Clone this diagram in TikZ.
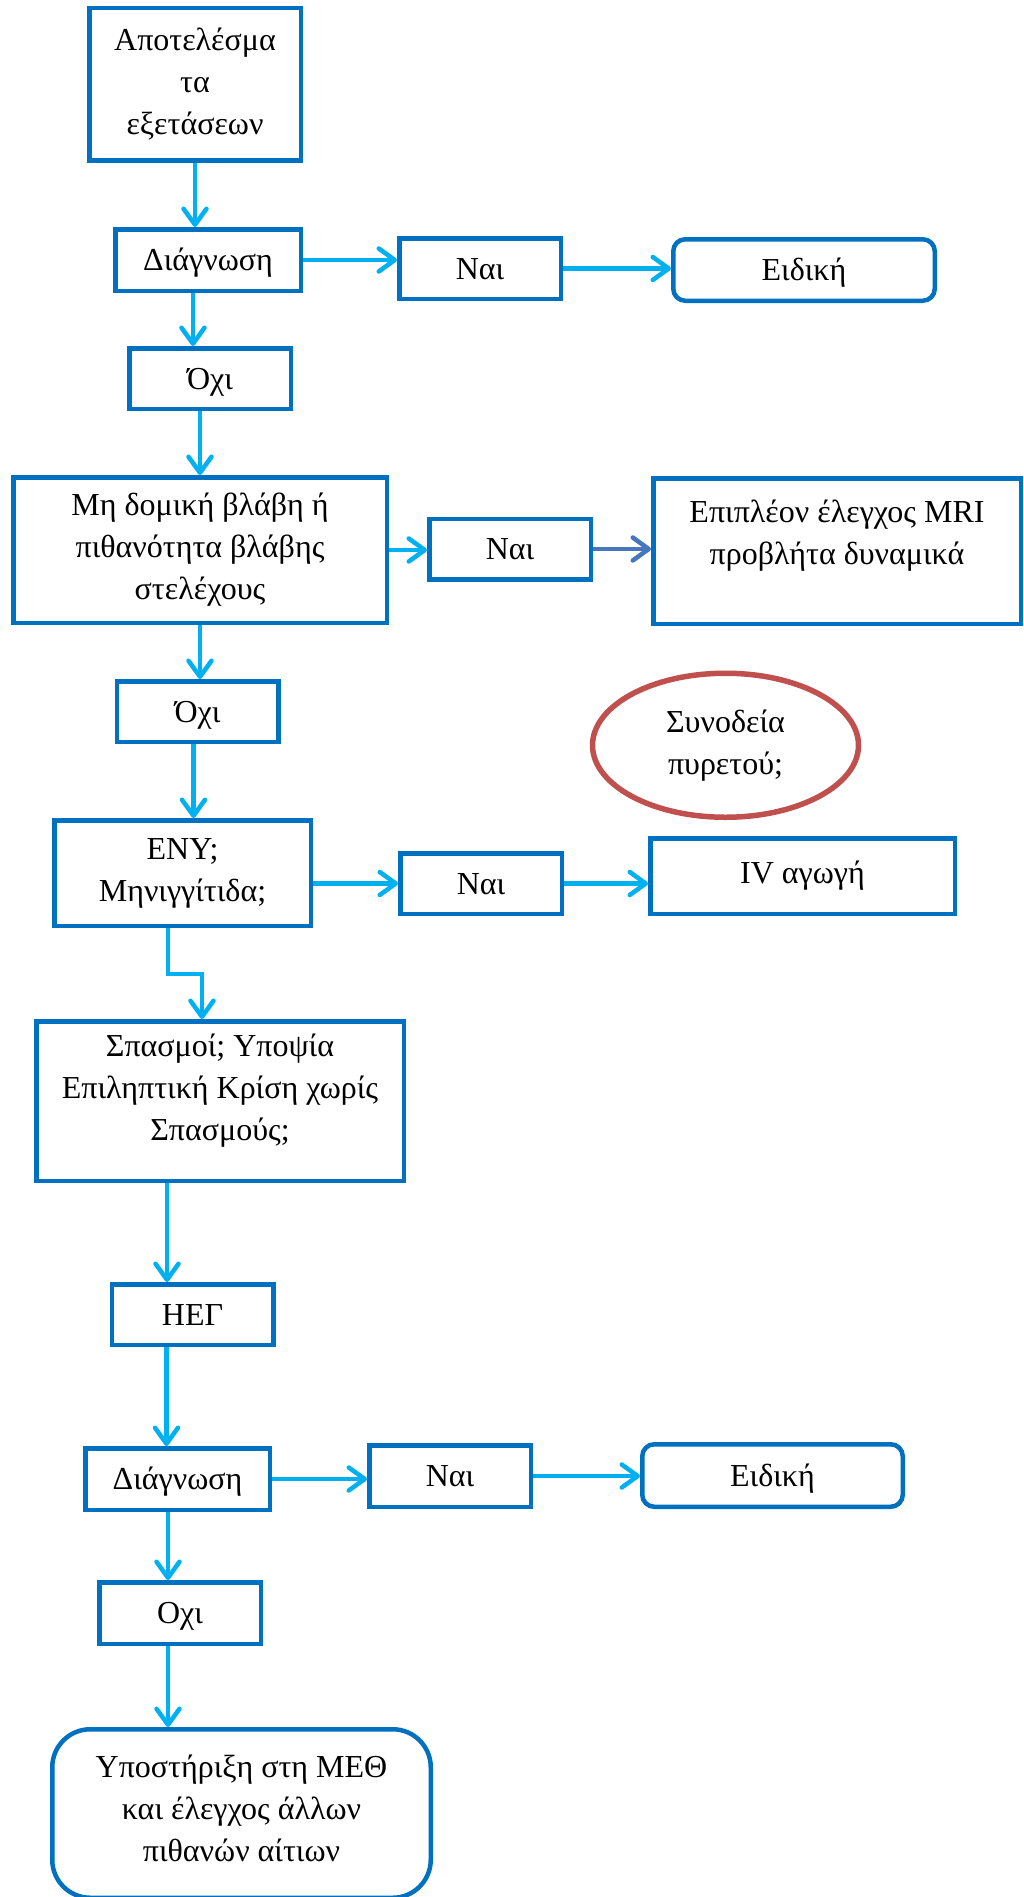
\documentclass[tikz,border=0pt]{standalone}
\usepackage{fontspec}
\setmainfont{Liberation Serif}
\usepackage{tikz}
\usetikzlibrary{arrows.meta,positioning,shapes.geometric}
\definecolor{cBox}{RGB}{0,112,192}
\definecolor{cArrow}{RGB}{0,176,240}
\definecolor{cDark}{RGB}{70,118,190}
\definecolor{cFever}{RGB}{192,80,77}
\tikzset{
  blk/.style={draw=cBox, line width=4.5pt, align=center, inner sep=0pt,
              font=\fontsize{32}{42}\selectfont},
  one/.style={blk, text height=23pt, text depth=2pt},
  sm/.style={one, minimum width=161.5pt, minimum height=60.5pt},
  rblk/.style={one, rounded corners=12pt},
  oval/.style={ellipse, draw=cFever, line width=5.5pt, align=center, inner sep=0pt,
               font=\fontsize{32}{42}\selectfont},
  lifted/.style={text depth=#1},
  ar/.style={-{Straight Barb[length=16pt,width=23pt,round]}, draw=cArrow, line width=4.5pt},
  ard/.style={ar, draw=cDark},
}

\begin{document}
\begin{tikzpicture}
\useasboundingbox (0,0) rectangle (1024pt,-1897pt);

% main column
\node[blk, minimum width=211.5pt, minimum height=152.5pt] (res) at (195pt,-84.5pt)
  {Αποτελέσμα\\τα\\εξετάσεων};
\node[one, minimum width=185.5pt, minimum height=61.5pt, below=64pt of res, xshift=13pt] (diag1) {Διάγνωση};
\node[sm, below=53pt of diag1, xshift=2pt] (no1) {Όχι};
\node[blk, minimum width=373.5pt, minimum height=145.5pt, below=64pt of no1, xshift=-10pt] (mh)
  {Μη δομική βλάβη ή\\πιθανότητα βλάβης\\στελέχους};
\node[sm, below=54pt of mh, xshift=-2.5pt] (no2) {Όχι};
\node[blk, minimum width=256.5pt, minimum height=105.5pt, below=74pt of no2, xshift=-15pt] (eny)
  {ΕΝΥ;\\Μηνιγγίτιδα;};
\node[blk, lifted=27pt, minimum width=367.5pt, minimum height=159.5pt, below=91pt of eny, xshift=37.5pt] (spasm)
  {Σπασμοί; Υποψία\\Επιληπτική Κρίση χωρίς\\Σπασμούς;};
\node[sm, below=99pt of spasm, xshift=-27.5pt] (heg) {ΗΕΓ};
\node[one, minimum width=184.5pt, minimum height=61.5pt, below=99pt of heg, xshift=-15pt] (diag2) {Διάγνωση};
\node[sm, minimum height=61.5pt, below=68pt of diag2, xshift=2.5pt] (no3) {Οχι};
\node[blk, lifted=10pt, rounded corners=38pt, minimum width=378.5pt, minimum height=168.5pt, below=81pt of no3, xshift=61.5pt] (icu)
  {Υποστήριξη στη ΜΕΘ\\και έλεγχος άλλων\\πιθανών αίτιων};

% side branches
\node[sm, right=94pt of diag1, yshift=-8.5pt] (yes1) {Ναι};
\node[rblk, minimum width=261.5pt, minimum height=61.5pt, right=108pt of yes1, yshift=-1.5pt] (spec1) {Ειδική};
\node[sm, right=38pt of mh, yshift=1pt] (yes2) {Ναι};
\node[blk, lifted=37pt, minimum width=367.5pt, minimum height=145.5pt, right=58pt of yes2, yshift=-2pt] (mri)
  {Επιπλέον έλεγχος MRI\\προβλήτα δυναμικά};
\node[sm, right=85pt of eny, yshift=-10.5pt] (yes3) {Ναι};
\node[blk, minimum width=304.5pt, minimum height=75.5pt, right=84pt of yes3, yshift=7.5pt] (iv) {IV αγωγή};
\node[oval, minimum width=266pt, minimum height=144pt, above=16pt of iv, xshift=-77pt] (fever)
  {Συνοδεία\\πυρετού;};
\node[sm, minimum height=61.5pt, right=95pt of diag2, yshift=3pt] (yes4) {Ναι};
\node[rblk, minimum width=260.5pt, minimum height=62.5pt, right=107pt of yes4, yshift=0.5pt] (spec2) {Ειδική};

% arrows
\draw[ar] (res.south) -- (res.south |- diag1.north);
\draw[ar] ([xshift=-15pt]diag1.south) -- ([xshift=-15pt]diag1.south |- no1.north);
\draw[ar] (diag1.east) -- (diag1.east -| yes1.west);
\draw[ar] (yes1.east) -- (yes1.east -| spec1.west);
\draw[ar] (no1.south -| mh.north) -- (mh.north);
\draw[ar] (mh.east) -- (mh.east -| yes2.west);
\draw[ard] (yes2.east) -- (yes2.east -| mri.west);
\draw[ar] (mh.south) -- (mh.south |- no2.north);
\draw[ar] ([xshift=-4pt]no2.south) -- ([xshift=-4pt]no2.south |- eny.north);
\draw[ar] (yes3.west -| eny.east) -- (yes3.west);
\draw[ar] (yes3.east) -- (yes3.east -| iv.west);
\draw[ar] ([xshift=-14.5pt]eny.south) -- ++(0,-46pt) -| ([xshift=-18pt]spasm.north);
\draw[ar] ([xshift=-53pt]spasm.south) -- ([xshift=-53pt]spasm.south |- heg.north);
\draw[ar] ([xshift=-26pt]heg.south) -- ([xshift=-26pt]heg.south |- diag2.north);
\draw[ar] (diag2.east) -- (diag2.east -| yes4.west);
\draw[ar] (yes4.east) -- (yes4.east -| spec2.west);
\draw[ar] ([xshift=-12pt]no3.north |- diag2.south) -- ([xshift=-12pt]no3.north);
\draw[ar] ([xshift=-12pt]no3.south) -- ([xshift=-12pt]no3.south |- icu.north);
\end{tikzpicture}
\end{document}
